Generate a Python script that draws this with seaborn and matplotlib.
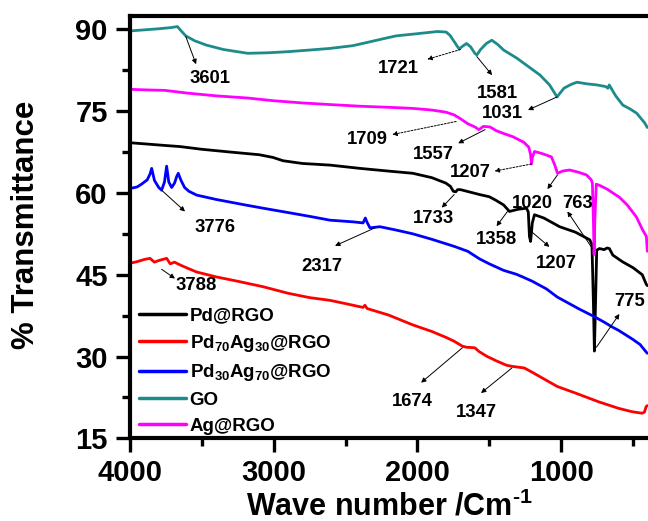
import pandas as pd
import numpy as np
import matplotlib
matplotlib.use("Agg")
import matplotlib.pyplot as plt
import seaborn as sns
from matplotlib.ticker import MultipleLocator

# spectra (wave number, % transmittance)
go_x = [4000, 3900, 3800, 3720, 3670, 3640, 3612, 3550, 3468, 3350, 3181, 3037, 2900, 2750, 2606,
        2450, 2348, 2250, 2147, 2000, 1859, 1800, 1773, 1740, 1710, 1680, 1658, 1630, 1600, 1586,
        1560, 1520, 1482, 1440, 1400, 1307, 1250, 1146, 1080, 1028, 980, 930, 889, 820, 750,
        690, 674, 665, 620, 570, 520, 473, 417, 400]
go_y = [89.7, 89.9, 90.1, 90.3, 90.5, 89.6, 88.8, 87.9, 87.1, 86.3, 85.6, 85.7, 85.9, 86.2, 86.5,
        87.0, 87.6, 88.2, 88.8, 89.2, 89.6, 89.5, 88.9, 87.6, 86.4, 87.0, 87.4, 86.8, 85.6, 85.3,
        86.3, 87.4, 88.0, 87.2, 86.2, 84.7, 83.6, 81.6, 79.8, 77.6, 79.2, 79.9, 80.3, 80.0, 79.8,
        79.5, 79.2, 79.8, 77.8, 76.1, 75.4, 74.6, 72.8, 72.0]

ag_x = [4000, 3900, 3756, 3600, 3400, 3181, 3000, 2800, 2606, 2400, 2200, 2032, 1900, 1800, 1744,
        1700, 1650, 1600, 1572, 1540, 1495, 1450, 1400, 1335, 1260, 1225, 1212, 1206, 1200, 1185,
        1130, 1067, 1045, 1025, 990, 941, 880, 823, 790, 782, 775, 770, 765, 755, 733, 680, 640,
        594, 540, 476, 434, 406, 400]
ag_y = [79.0, 78.9, 78.8, 78.3, 77.8, 77.4, 76.9, 76.5, 76.2, 75.9, 75.7, 75.5, 75.2, 74.8, 74.3,
        73.6, 72.7, 72.1, 71.6, 72.2, 72.1, 71.4, 70.9, 70.3, 69.3, 68.4, 67.0, 65.3, 66.5, 67.6,
        67.2, 66.6, 65.2, 63.6, 64.0, 64.2, 63.8, 63.3, 62.4, 61.8, 55.0, 48.7, 55.0, 61.6, 61.4,
        60.7, 60.0, 59.2, 57.8, 55.6, 53.3, 52.0, 49.3]

pd_x = [4000, 3900, 3756, 3652, 3500, 3304, 3100, 3004, 2935, 2800, 2608, 2400, 2281, 2200,
        2032, 1900, 1802, 1770, 1750, 1733, 1720, 1700, 1567, 1500, 1457, 1400, 1359, 1300, 1241,
        1228, 1220, 1212, 1200, 1185, 1120, 1010, 900, 800, 785, 775, 768, 760, 752, 733, 700,
        680, 664, 640, 574, 500, 435, 408, 400]
pd_y = [69.2, 69.0, 68.7, 68.5, 68.0, 67.5, 67.0, 66.5, 65.9, 65.4, 65.1, 64.5, 64.2, 64.0,
        63.6, 62.8, 61.8, 61.2, 60.3, 60.2, 60.6, 60.6, 59.7, 59.3, 58.7, 57.8, 56.6, 57.0, 57.2,
        56.5, 52.0, 51.1, 54.5, 56.0, 55.4, 53.8, 52.8, 51.4, 50.5, 40.0, 31.0, 40.0, 49.5,
        49.8, 49.6, 49.9, 49.8, 48.6, 47.4, 46.3, 45.0, 43.3, 43.0]

pd30_x = [4000, 3950, 3920, 3880, 3860, 3849, 3830, 3800, 3780, 3760, 3745, 3730, 3710, 3690, 3675,
          3664, 3645, 3620, 3590, 3536, 3400, 3200, 3074, 2900, 2750, 2608, 2450, 2378, 2362, 2350,
          2330, 2260, 2150, 2032, 1900, 1744, 1650, 1567, 1500, 1400, 1313, 1268, 1200, 1102, 1026,
          873, 768, 700, 643, 600, 504, 450, 407, 400]
pd30_y = [60.8, 61.1, 61.6, 62.4, 63.5, 64.5, 62.3, 61.0, 60.5, 62.0, 64.9, 62.0, 61.0, 61.8, 63.0,
          63.6, 62.3, 61.0, 60.3, 59.6, 58.8, 57.8, 57.2, 56.4, 55.7, 55.0, 54.7, 54.5, 55.4, 54.6,
          53.6, 53.8, 53.2, 52.5, 51.5, 50.2, 49.3, 47.9, 47.0, 45.8, 45.1, 44.6, 43.8, 42.4, 40.9,
          38.7, 37.3, 36.3, 35.4, 34.8, 33.2, 32.2, 30.8, 30.6]

pd70_x = [4000, 3950, 3900, 3861, 3830, 3800, 3745, 3720, 3690, 3652, 3600, 3536, 3400, 3250, 3074,
          2900, 2750, 2608, 2500, 2378, 2365, 2350, 2200, 2032, 1900, 1800, 1744, 1687, 1658, 1600,
          1570, 1514, 1450, 1380, 1342, 1256, 1200, 1100, 1026, 900, 739, 600, 509, 437, 420,
          408, 400]
pd70_y = [47.1, 47.4, 47.8, 48.0, 47.3, 47.6, 48.0, 47.0, 47.3, 46.8, 46.2, 45.5, 44.6, 43.8, 42.8,
          41.6, 40.8, 40.3, 39.7, 39.0, 39.4, 38.8, 37.6, 35.8, 34.6, 33.5, 32.8, 31.9, 31.7, 31.6,
          30.9, 30.0, 29.2, 28.4, 28.2, 27.9, 27.1, 25.6, 24.5, 23.3, 21.7, 20.5, 19.9, 19.6, 19.8,
          20.8, 21.0]

names = ["Pd@RGO", "Pd$_{70}$Ag$_{30}$@RGO", "Pd$_{30}$Ag$_{70}$@RGO", "GO", "Ag@RGO"]
colors = ["black", "#ff0000", "#0000ff", "#1e8b8b", "#ff00ff"]
series = [(pd_x, pd_y), (pd70_x, pd70_y), (pd30_x, pd30_y), (go_x, go_y), (ag_x, ag_y)]

frames = []
for n, (xs, ys) in zip(names, series):
    frames.append(pd.DataFrame({"wn": xs, "T": ys, "sample": n}))
df = pd.concat(frames, ignore_index=True)

# peak labels: text, text pos, arrow start (on curve), arrow end, dashed
peaks = [
    ("3601", 3440, 81.0, 3612, 88.7, 3540, 83.6, False),
    ("1721", 2132, 82.9, 1700, 86.3, 1931, 84.5, True),
    ("1581", 1446, 78.2, 1586, 85.0, 1480, 81.6, False),
    ("1031", 1411, 74.5, 1028, 77.6, 1230, 75.2, False),
    ("1709", 2348, 69.8, 1730, 73.1, 2175, 70.7, True),
    ("1557", 1888, 67.0, 1529, 71.6, 1716, 69.1, False),
    ("1207", 1629, 63.7, 1206, 65.3, 1463, 64.0, True),
    ("1020", 1199, 58.1, 1025, 63.3, 1095, 60.7, False),
    ("763", 887, 58.1, 782, 49.8, 956, 56.6, False),
    ("1733", 1888, 55.4, 1744, 59.7, 1830, 57.3, False),
    ("1358", 1449, 51.4, 1373, 56.6, 1449, 53.9, False),
    ("1207", 1032, 47.0, 1206, 52.9, 1081, 50.1, False),
    ("3776", 3408, 53.6, 3780, 60.5, 3617, 56.6, False),
    ("2317", 2665, 46.5, 2295, 53.6, 2573, 50.3, False),
    ("3788", 3536, 43.1, 3780, 46.0, 3687, 44.3, False),
    ("1674", 2032, 21.7, 1687, 31.6, 1974, 25.2, False),
    ("1347", 1586, 19.8, 1342, 27.9, 1557, 23.3, False),
    ("775", 525, 40.0, 754, 31.7, 594, 37.8, False),
]

sns.set_style("ticks")
plt.rcParams["font.family"] = ["Liberation Sans", "DejaVu Sans"]
plt.rcParams["font.weight"] = "bold"
plt.rcParams["mathtext.fontset"] = "custom"
plt.rcParams["mathtext.bf"] = "Liberation Sans:bold"
plt.rcParams["mathtext.rm"] = "Liberation Sans:bold"
plt.rcParams["mathtext.default"] = "bf"
for k in ["text.color", "axes.labelcolor", "xtick.color", "ytick.color", "axes.edgecolor"]:
    plt.rcParams[k] = "black"

fig = plt.figure(figsize=(6.48, 5.21), dpi=100)
ax = fig.add_axes([0.2006, 0.1587, 0.7994, 0.8112])

sns.lineplot(data=df, x="wn", y="T", hue="sample", hue_order=names, palette=colors,
             sort=False, estimator=None, linewidth=2.0, ax=ax)

for lab, tx, ty, x0, y0, x1, y1, dashed in peaks:
    ax.annotate("", xy=(x1, y1), xytext=(x0, y0),
                arrowprops=dict(arrowstyle="-|>", color="black", lw=0.7,
                                linestyle=(0, (2, 1.5)) if dashed else "-",
                                mutation_scale=7, shrinkA=0, shrinkB=0))
    ax.text(tx, ty, lab, ha="center", va="center", fontsize=13.3, fontweight="bold")

ax.set_xlim(4000, 395)
ax.set_ylim(15, 92.5)
ax.xaxis.set_major_locator(MultipleLocator(1000))
ax.xaxis.set_minor_locator(MultipleLocator(500))
ax.yaxis.set_major_locator(MultipleLocator(15))
ax.yaxis.set_minor_locator(MultipleLocator(7.5))
ax.tick_params(which="major", direction="out", length=10, width=2.4, labelsize=21)
ax.tick_params(which="minor", direction="out", length=5.5, width=2.4)
ax.tick_params(axis="x", which="major", pad=5)
ax.tick_params(axis="y", which="major", pad=6)
for s in ["left", "top", "bottom"]:
    ax.spines[s].set_linewidth(3)
ax.spines["right"].set_visible(False)
for t in ax.get_xticklabels() + ax.get_yticklabels():
    t.set_fontweight("bold")

ax.set_xlabel("Wave number /Cm$^{\\text{-}1}$", fontsize=22, fontweight="bold")
ax.set_ylabel("% Transmittance", fontsize=22.5, fontweight="bold")
ax.xaxis.set_label_coords(0.5, -0.1815)
ax.xaxis.label.set_va("baseline")
ax.yaxis.set_label_coords(-0.172, 0.505)

ax.legend(loc="lower left", bbox_to_anchor=(0.01, 0.0), frameon=False, fontsize=13.5,
          handlelength=2.5, handletextpad=0.2, labelspacing=0.45, borderpad=0.2,
          borderaxespad=0)
for t in ax.get_legend().get_texts():
    t.set_fontweight("bold")
for l in ax.get_legend().get_lines():
    l.set_linewidth(2.5)

fig.savefig("out.png", dpi=100)
